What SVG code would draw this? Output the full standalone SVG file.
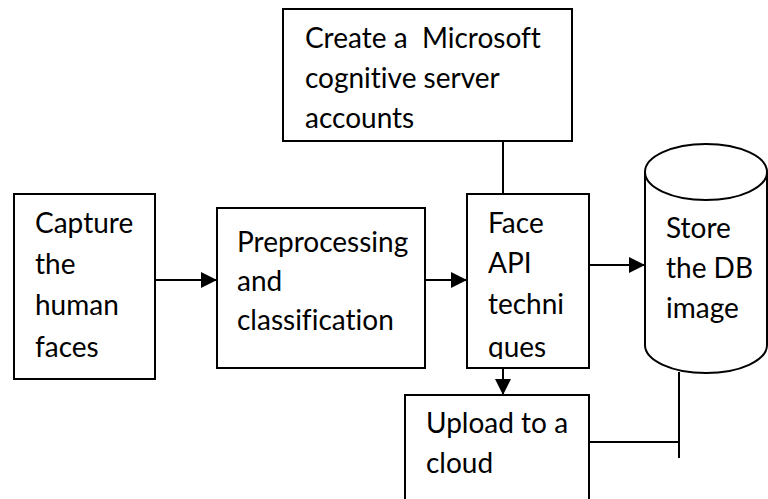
<svg xmlns="http://www.w3.org/2000/svg" width="768" height="499" viewBox="0 0 768 499">
  <style>
    .box { fill: #ffffff; stroke: #000000; stroke-width: 2; }
    .wire { fill: none; stroke: #000000; stroke-width: 2; }
    .label { font-family: Lato, "Open Sans", "Liberation Sans", sans-serif; font-size: 28px; fill: #000000; white-space: pre; font-variant-ligatures: none; }
  </style>
  <defs>
    <marker id="arrow" viewBox="0 0 16 16" refX="16" refY="8" markerWidth="16" markerHeight="16" markerUnits="userSpaceOnUse" orient="auto">
      <path d="M0,0 L16,8 L0,16 Z" fill="#000000"/>
    </marker>
    <clipPath id="clipFace"><rect x="468" y="195" width="120" height="164"/></clipPath>
    <clipPath id="clipUpload"><rect x="406" y="396" width="182" height="103"/></clipPath>
  </defs>
  <rect width="768" height="499" fill="#ffffff"/>

  <g id="connectors">
    <line class="wire" x1="155" y1="280" x2="217" y2="280" marker-end="url(#arrow)"/>
    <line class="wire" x1="425" y1="280" x2="467" y2="280" marker-end="url(#arrow)"/>
    <line class="wire" x1="503" y1="141" x2="503" y2="194"/>
    <line class="wire" x1="589" y1="265" x2="645" y2="265" marker-end="url(#arrow)"/>
    <line class="wire" x1="503" y1="368" x2="503" y2="395" marker-end="url(#arrow)"/>
    <line class="wire" x1="679" y1="372" x2="679" y2="458"/>
    <line class="wire" x1="589" y1="442" x2="679" y2="442"/>
  </g>

  <g id="capture">
    <rect class="box" x="14" y="194" width="141" height="185"/>
    <text class="label" x="35" y="233">Capture</text>
    <text class="label" x="35" y="274">the</text>
    <text class="label" x="35" y="315">human</text>
    <text class="label" x="35" y="357">faces</text>
  </g>

  <g id="preprocessing">
    <rect class="box" x="217" y="208" width="208" height="160"/>
    <text class="label" x="237" y="252">Preprocessing</text>
    <text class="label" x="237" y="291">and</text>
    <text class="label" x="237" y="330">classification</text>
  </g>

  <g id="account">
    <rect class="box" x="283" y="9" width="289" height="132"/>
    <text class="label" x="305" y="48">Create a  Microsoft</text>
    <text class="label" x="305" y="88">cognitive server</text>
    <text class="label" x="305" y="128">accounts</text>
  </g>

  <g id="faceapi">
    <rect class="box" x="467" y="194" width="122" height="174"/>
    <g clip-path="url(#clipFace)">
      <text class="label" x="488" y="233">Face</text>
      <text class="label" x="488" y="273">API</text>
      <text class="label" x="488" y="314">techni</text>
      <text class="label" x="488" y="357">ques</text>
    </g>
  </g>

  <g id="store">
    <path class="box" d="M645,172 L645,345 A61,28 0 0 0 767,345 L767,172 A61,28 0 0 0 645,172 Z"/>
    <path class="wire" d="M645,172 A61,28 0 0 0 767,172"/>
    <text class="label" x="666" y="238">Store</text>
    <text class="label" x="666" y="278">the DB</text>
    <text class="label" x="666" y="318">image</text>
  </g>

  <g id="upload">
    <rect class="box" x="405" y="395" width="184" height="110"/>
    <g clip-path="url(#clipUpload)">
      <text class="label" x="426" y="433">Upload to a</text>
      <text class="label" x="426" y="473">cloud</text>
    </g>
  </g>
</svg>
